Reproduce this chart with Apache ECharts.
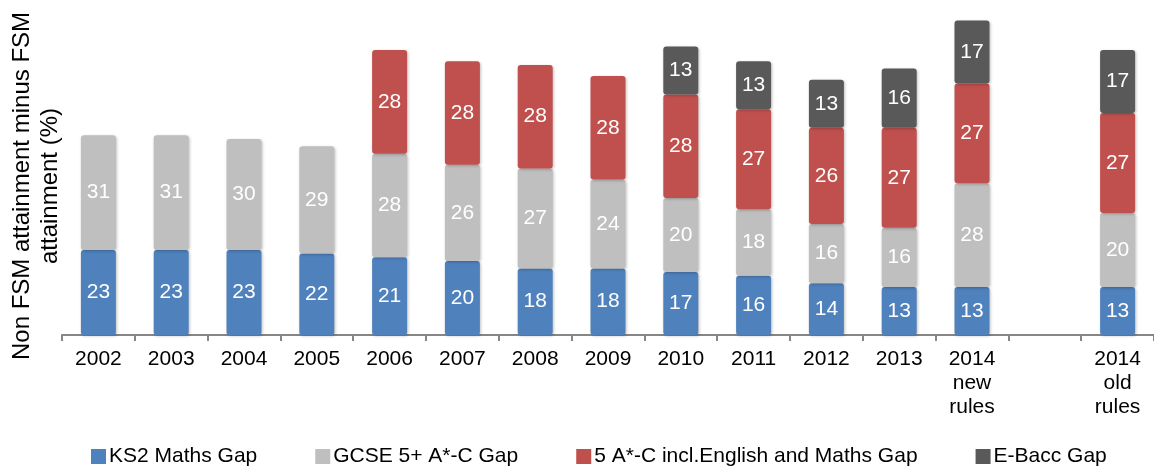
<!DOCTYPE html>
<html><head><meta charset="utf-8">
<script src="https://cdn.jsdelivr.net/npm/echarts@6/dist/echarts.min.js"></script>
<style>html,body{margin:0;padding:0;background:#fff}#c{width:1154px;height:468px}</style>
</head><body><div id="c"></div>
<script>
const categories = ['2002','2003','2004','2005','2006','2007','2008','2009','2010','2011','2012','2013','2014\nnew\nrules','','2014\nold\nrules'];
const ks2 = [23,23,23,22,21,20,18,18,17,16,14,13,13,null,13];
const gcse = [31,31,30,29,28,26,27,24,20,18,16,16,28,null,20];
const english = [null,null,null,null,28,28,28,28,28,27,26,27,27,null,27];
const ebacc = [null,null,null,null,null,null,null,null,13,13,13,16,17,null,17];
const seriesNames = ['KS2 Maths Gap','GCSE 5+ A*-C Gap','5 A*-C incl.English and Maths Gap','E-Bacc Gap'];
const colors = ['#4F81BD','#BFBFBF','#C0504D','#595959'];
const yTitle = ['Non FSM attainment minus FSM','attainment (%)'];

const chart = echarts.init(document.getElementById('c'));
const mk = (name, data, color) => ({
  name, type: 'bar', stack: 'all', data, barWidth: 35,
  itemStyle: { color, borderRadius: 3, shadowBlur: 3, shadowColor: 'rgba(0,0,0,0.25)', shadowOffsetX: 1, shadowOffsetY: 1 },
  label: { show: true, position: 'inside', color: '#fff', fontSize: 21, fontFamily: 'Liberation Sans' }
});
chart.setOption({
  animation: false,
  grid: { left: 62, top: 2, width: 1101, height: 333 },
  legend: {
    top: 441, left: 86, itemWidth: 15, itemHeight: 15, itemGap: 58, icon: 'rect',
    textStyle: { fontSize: 21, color: '#000', fontFamily: 'Liberation Sans', padding: [0,0,0,-2] },
    data: seriesNames
  },
  xAxis: {
    type: 'category', data: categories,
    axisLine: { lineStyle: { color: '#868686', width: 2 } },
    axisTick: { show: true, length: 6, alignWithLabel: false, lineStyle: { color: '#868686', width: 2 } },
    axisLabel: { color: '#000', fontSize: 21, fontFamily: 'Liberation Sans', margin: 12, lineHeight: 24, interval: 0 }
  },
  yAxis: { type: 'value', min: 0, max: 90, show: false, splitLine: { show: false } },
  graphic: [{
    type: 'text', x: 36, y: 186, rotation: Math.PI / 2,
    style: { text: yTitle.join('\n'), fontSize: 24, fontFamily: 'Liberation Sans', fill: '#000', align: 'center', verticalAlign: 'middle', lineHeight: 28 }
  }],
  series: [
    mk(seriesNames[0], ks2, colors[0]),
    mk(seriesNames[1], gcse, colors[1]),
    mk(seriesNames[2], english, colors[2]),
    mk(seriesNames[3], ebacc, colors[3])
  ]
});
</script></body></html>
